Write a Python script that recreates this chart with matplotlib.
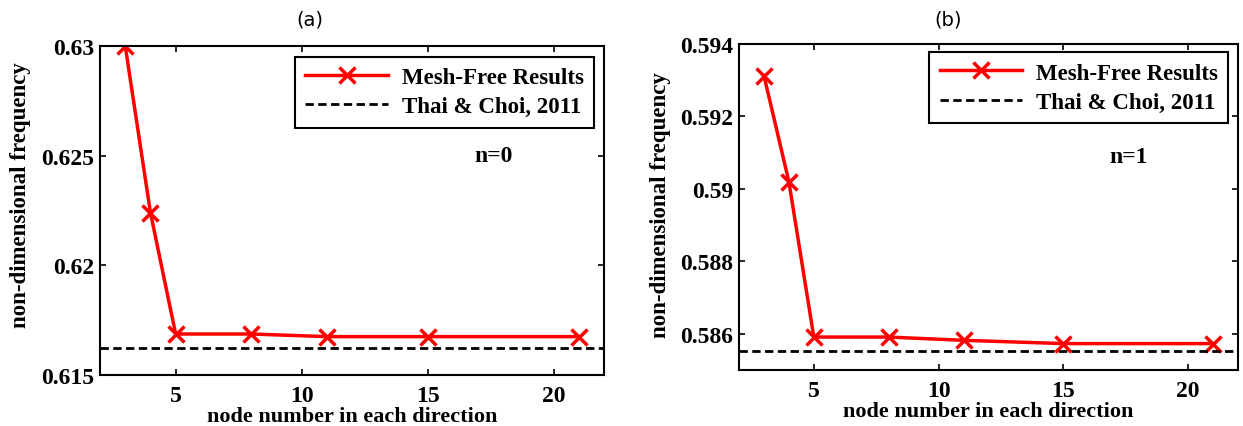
import numpy as np
import matplotlib.pyplot as plt

# node numbers in each direction
nodes = [3, 4, 5, 8, 11, 15, 21]

# (a) n=0
freq_a = [0.6300, 0.6224, 0.61687, 0.61687, 0.61675, 0.61675, 0.61675]
ref_a = 0.61623

# (b) n=1
freq_b = [0.59313, 0.5902, 0.58591, 0.58591, 0.58582, 0.58573, 0.58573]
ref_b = 0.58552

plt.rcParams['font.family'] = ['Liberation Serif', 'DejaVu Serif']
plt.rcParams['font.weight'] = 'bold'


def draw_panel(ax, y, ref, ylim, yticks, nlabel, n_y, ylab_y, leg_anchor):
    ax.plot(nodes, y, color='red', lw=2.5, marker='x', ms=11, mew=2.5,
            label='Mesh-Free Results')
    ax.axhline(ref, color='black', ls='--', lw=2, dashes=(3, 1.6),
               label='Thai & Choi, 2011')
    ax.set_xlim(2, 22)
    ax.set_ylim(*ylim)
    ax.set_xticks([5, 10, 15, 20])
    ax.set_yticks(yticks)
    ax.set_yticklabels([('%.3f' % v).rstrip('0') for v in yticks])
    ax.tick_params(direction='in', top=True, right=True, length=4,
                   width=1.2, labelsize=17, pad=4)
    ax.tick_params(axis='x', pad=7)
    for s in ax.spines.values():
        s.set_linewidth(1.5)
    ax.set_xlabel('node number in each direction', fontsize=16,
                  fontweight='bold', labelpad=0)
    ax.set_ylabel('non-dimensional frequency', fontsize=16.5,
                  fontweight='bold')
    ax.yaxis.set_label_coords(-0.137, ylab_y)
    ax.text(0.78, n_y, nlabel, transform=ax.transAxes, fontsize=17,
            fontweight='bold', ha='center', va='center')
    leg = ax.legend(loc='upper right', bbox_to_anchor=leg_anchor,
                    borderaxespad=0, fancybox=False, framealpha=1,
                    edgecolor='black', handlelength=3.6, borderpad=0.45,
                    labelspacing=0.35, handletextpad=0.6,
                    prop={'size': 16.5, 'weight': 'bold'})
    leg.get_frame().set_linewidth(1.5)


fig = plt.figure(figsize=(12.43, 4.27), dpi=100)
ax1 = fig.add_axes([0.0805, 0.1194, 0.4054, 0.7705])
ax2 = fig.add_axes([0.5945, 0.1311, 0.4015, 0.7635])

draw_panel(ax1, freq_a, ref_a, (0.615, 0.63), [0.615, 0.62, 0.625, 0.63],
           'n=0', 0.666, 0.55, (0.980, 0.967))
draw_panel(ax2, freq_b, ref_b, (0.585, 0.594),
           [0.586, 0.588, 0.59, 0.592, 0.594], 'n=1', 0.656, 0.51,
           (0.980, 0.975))

fig.text(310 / 1243, 1 - 20 / 427, '(a)', ha='center', va='center',
         fontsize=14, fontweight='normal', family='DejaVu Sans')
fig.text(948 / 1243, 1 - 20 / 427, '(b)', ha='center', va='center',
         fontsize=14, fontweight='normal', family='DejaVu Sans')

fig.savefig('out.png', dpi=100)
